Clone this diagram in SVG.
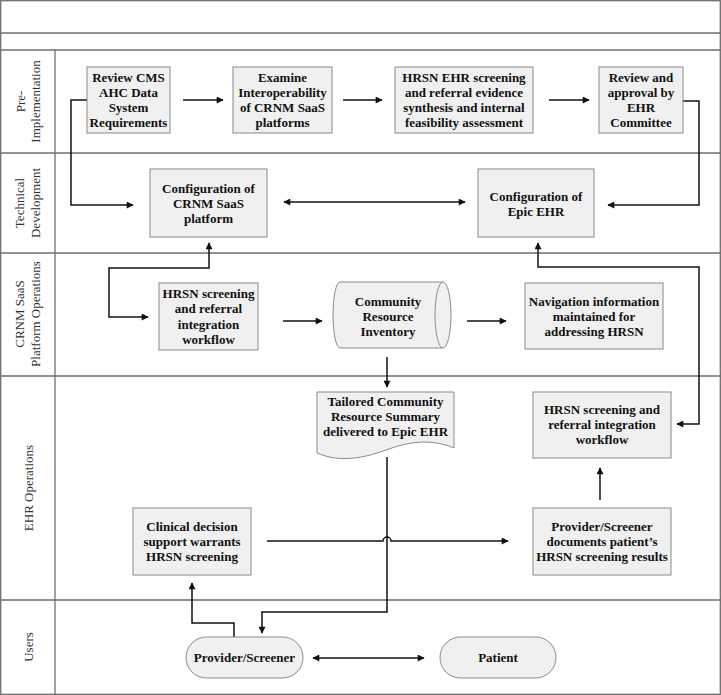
<svg xmlns="http://www.w3.org/2000/svg" width="721" height="695" viewBox="0 0 721 695">
<style>
.lane{fill:none;stroke:#6e6e6e;stroke-width:1.3}
.box{fill:#f0f0f0;stroke:#8a8a8a;stroke-width:1}
.t{font-family:"Liberation Serif","Times New Roman",serif;font-weight:bold;font-size:13px;fill:#111;text-anchor:middle}
.lbl{font-family:"Liberation Serif","Times New Roman",serif;font-size:13px;fill:#333;text-anchor:middle}
.c{fill:none;stroke:#111;stroke-width:1.5}
</style>
<defs>
<marker id="ah" viewBox="0 0 10 10" refX="9" refY="5" markerWidth="8" markerHeight="7" markerUnits="userSpaceOnUse" orient="auto-start-reverse">
<path d="M0,0 L10,5 L0,10 Z" fill="#111"/>
</marker>
</defs>
<rect width="721" height="695" fill="#fff"/>
<g id="lanes">
<rect class="lane" x="0.7" y="0.7" width="719.6" height="693.6"/>
<line class="lane" x1="0" y1="33" x2="721" y2="33"/>
<line class="lane" x1="0" y1="50" x2="721" y2="50"/>
<line class="lane" x1="0" y1="153" x2="721" y2="153"/>
<line class="lane" x1="0" y1="253" x2="721" y2="253"/>
<line class="lane" x1="0" y1="376" x2="721" y2="376"/>
<line class="lane" x1="0" y1="600" x2="721" y2="600"/>
<line class="lane" x1="55" y1="50" x2="55" y2="695"/>
<text class="lbl" transform="translate(25,101.5) rotate(-90)">Pre-</text>
<text class="lbl" transform="translate(40,101.5) rotate(-90)">Implementation</text>
<text class="lbl" transform="translate(24,203) rotate(-90)">Technical</text>
<text class="lbl" transform="translate(40,203) rotate(-90)">Development</text>
<text class="lbl" transform="translate(24,314) rotate(-90)">CRNM SaaS</text>
<text class="lbl" transform="translate(40,314) rotate(-90)">Platform Operations</text>
<text class="lbl" transform="translate(33,488) rotate(-90)">EHR Operations</text>
<text class="lbl" transform="translate(33,647) rotate(-90)">Users</text>
</g>
<g id="connectors">
<path class="c" d="M183,100 H223" marker-end="url(#ah)"/>
<path class="c" d="M343,100 H382" marker-end="url(#ah)"/>
<path class="c" d="M549,100 H589" marker-end="url(#ah)"/>
<path class="c" d="M87,100 H71 V205 H133" marker-end="url(#ah)"/>
<path class="c" d="M683,101 H699 V205 H608" marker-end="url(#ah)"/>
<path class="c" d="M284,202 H465" marker-start="url(#ah)" marker-end="url(#ah)"/>
<path class="c" d="M148,317 H109 V268 H209 V243" marker-start="url(#ah)" marker-end="url(#ah)"/>
<path class="c" d="M538,243 V267 H699 V424 H677" marker-start="url(#ah)" marker-end="url(#ah)"/>
<path class="c" d="M283,321 H322" marker-end="url(#ah)"/>
<path class="c" d="M467,321 H506" marker-end="url(#ah)"/>
<path class="c" d="M387,357 V387" marker-end="url(#ah)"/>
<path class="c" d="M387,457 V612 H262 V633" marker-end="url(#ah)"/>
<path class="c" d="M267,541 H383 A4,4 0 0 1 391,541 H508" marker-end="url(#ah)"/>
<path class="c" d="M600,500 V468" marker-end="url(#ah)"/>
<path class="c" d="M234,637 V623 H192 V583" marker-end="url(#ah)"/>
<path class="c" d="M313,658 H424" marker-start="url(#ah)" marker-end="url(#ah)"/>
</g>
<g id="review-cms">
<rect class="box" x="87" y="67" width="83" height="66"/>
<text class="t" x="128.5" y="81.5">Review CMS<tspan x="128.5" dy="15.3">AHC Data</tspan><tspan x="128.5" dy="15.3">System</tspan><tspan x="128.5" dy="15.3">Requirements</tspan></text>
</g>
<g id="examine">
<rect class="box" x="233" y="67" width="99" height="66"/>
<text class="t" x="282.5" y="81.5">Examine<tspan x="282.5" dy="15.3">Interoperability</tspan><tspan x="282.5" dy="15.3">of CRNM SaaS</tspan><tspan x="282.5" dy="15.3">platforms</tspan></text>
</g>
<g id="hrsn-evidence">
<rect class="box" x="395" y="67" width="138" height="66"/>
<text class="t" x="464" y="81.5">HRSN EHR screening<tspan x="464" dy="15.3">and referral evidence</tspan><tspan x="464" dy="15.3">synthesis and internal</tspan><tspan x="464" dy="15.3">feasibility assessment</tspan></text>
</g>
<g id="review-approval">
<rect class="box" x="599" y="67" width="84" height="66"/>
<text class="t" x="641" y="81.5">Review and<tspan x="641" dy="15.3">approval by</tspan><tspan x="641" dy="15.3">EHR</tspan><tspan x="641" dy="15.3">Committee</tspan></text>
</g>
<g id="config-crnm">
<rect class="box" x="150" y="169" width="117" height="68"/>
<text class="t" x="208.5" y="192.5">Configuration of<tspan x="208.5" dy="15.3">CRNM SaaS</tspan><tspan x="208.5" dy="15.3">platform</tspan></text>
</g>
<g id="config-epic">
<rect class="box" x="478" y="169" width="116" height="68"/>
<text class="t" x="536" y="200.5">Configuration of<tspan x="536" dy="15.3">Epic EHR</tspan></text>
</g>
<g id="hrsn-crnm-workflow">
<rect class="box" x="159" y="283" width="99" height="67"/>
<text class="t" x="208.5" y="298">HRSN screening<tspan x="208.5" dy="15.3">and referral</tspan><tspan x="208.5" dy="15.3">integration</tspan><tspan x="208.5" dy="15.3">workflow</tspan></text>
</g>
<g id="community-inventory">
<path class="box" d="M340,282 H443 A8,33 0 0 1 443,348 H340 A7,33 0 0 1 340,282 Z"/>
<path class="box" d="M443,282 A8,33 0 0 0 443,348" fill="none"/>
<text class="t" x="388" y="305.5">Community<tspan x="388" dy="15.3">Resource</tspan><tspan x="388" dy="15.3">Inventory</tspan></text>
</g>
<g id="navigation">
<rect class="box" x="525" y="283" width="138" height="66"/>
<text class="t" x="594" y="305.5">Navigation information<tspan x="594" dy="15.3">maintained for</tspan><tspan x="594" dy="15.3">addressing HRSN</tspan></text>
</g>
<g id="tailored-summary">
<path class="box" d="M317,392 H454 V448 C430,438 408,442 386,450 C364,458 340,463 317,453 Z"/>
<text class="t" x="385.5" y="405.5">Tailored Community<tspan x="385.5" dy="15.3">Resource Summary</tspan><tspan x="385.5" dy="15.3">delivered to Epic EHR</tspan></text>
</g>
<g id="hrsn-ehr-workflow">
<rect class="box" x="533" y="392" width="138" height="66"/>
<text class="t" x="602" y="413.5">HRSN screening and<tspan x="602" dy="15.3">referral integration</tspan><tspan x="602" dy="15.3">workflow</tspan></text>
</g>
<g id="clinical-decision">
<rect class="box" x="133" y="508" width="118" height="67"/>
<text class="t" x="192" y="530.5">Clinical decision<tspan x="192" dy="15.3">support warrants</tspan><tspan x="192" dy="15.3">HRSN screening</tspan></text>
</g>
<g id="provider-documents">
<rect class="box" x="533" y="508" width="138" height="67"/>
<text class="t" x="602" y="530.5">Provider/Screener<tspan x="602" dy="15.3">documents patient’s</tspan><tspan x="602" dy="15.3">HRSN screening results</tspan></text>
</g>
<g id="provider-screener">
<rect class="box" x="186" y="637" width="117" height="41" rx="20.5"/>
<text class="t" x="244.5" y="662">Provider/Screener</text>
</g>
<g id="patient">
<rect class="box" x="440" y="637" width="116" height="41" rx="20.5"/>
<text class="t" x="498" y="662">Patient</text>
</g>
</svg>
